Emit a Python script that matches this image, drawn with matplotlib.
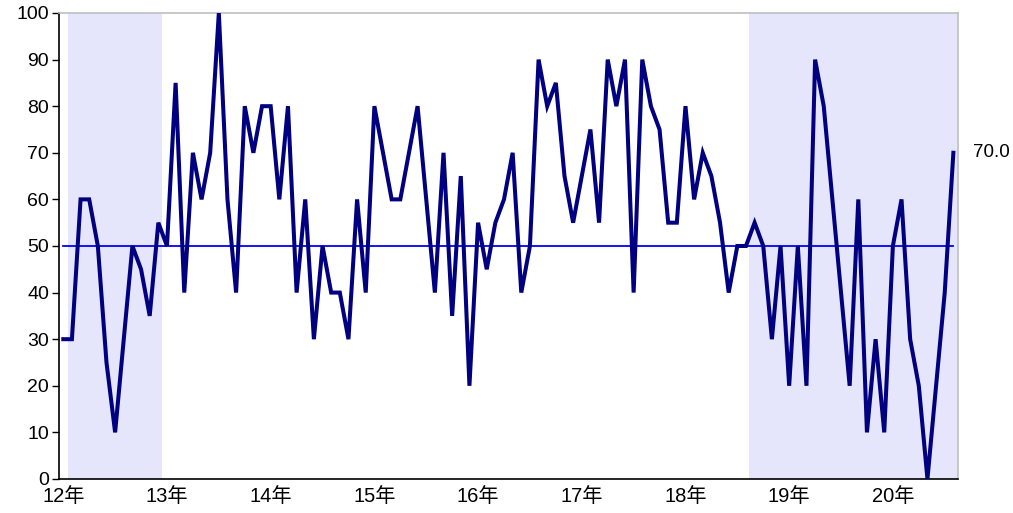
import numpy as np
import matplotlib
matplotlib.use('Agg')
import matplotlib.pyplot as plt

plt.rcParams['font.family'] = ['Liberation Sans', 'Noto Sans CJK JP', 'DejaVu Sans']

# 月次データ (2012年1月 - 2020年8月)
values = [
    30, 30, 60, 60, 50, 25, 10, 30, 50, 45, 35, 55,   # 12年
    50, 85, 40, 70, 60, 70, 100, 60, 40, 80, 70, 80,  # 13年
    80, 60, 80, 40, 60, 30, 50, 40, 40, 30, 60, 40,   # 14年
    80, 70, 60, 60, 70, 80, 60, 40, 70, 35, 65, 20,   # 15年
    55, 45, 55, 60, 70, 40, 50, 90, 80, 85, 65, 55,   # 16年
    65, 75, 55, 90, 80, 90, 40, 90, 80, 75, 55, 55,   # 17年
    80, 60, 70, 65, 55, 40, 50, 50, 55, 50, 30, 50,   # 18年
    20, 50, 20, 90, 80, 60, 40, 20, 60, 10, 30, 10,   # 19年
    50, 60, 30, 20, 0, 20, 40, 70,                    # 20年
]
year_labels = ['12年', '13年', '14年', '15年', '16年', '17年', '18年', '19年', '20年']
base_line = 50
# 網掛け期間 (月インデックス)
shade_start = [0.55, 79.4]
shade_end = [11.4, 103.5]

x = np.arange(len(values))

fig = plt.figure(figsize=(10.13, 5.13), dpi=100)
ax = fig.add_axes([0.0582, 0.0663, 0.8872, 0.9084])

for s, e in zip(shade_start, shade_end):
    ax.axvspan(s, e, facecolor='#e5e5fc', edgecolor='none', zorder=0)

ax.plot([x[0], x[-1]], [base_line, base_line], color='#0000ff', lw=1.3, zorder=2)
ax.plot(x, values, color='#000080', lw=2.9, solid_joinstyle='miter', zorder=3)

ax.set_xlim(-0.5, 103.5)
ax.set_ylim(0, 100)
ax.set_yticks(np.arange(0, 101, 10))
ax.set_xticks(x[::12])
ax.set_xticklabels(year_labels)

ax.tick_params(axis='y', direction='out', length=5, width=1, labelsize=14, pad=2)
ax.tick_params(axis='x', length=0, labelsize=14.5, pad=6)

for side in ['left', 'bottom']:
    ax.spines[side].set_color('black')
    ax.spines[side].set_linewidth(1.2)
for side in ['top', 'right']:
    ax.spines[side].set_color('#c0c0c0')
    ax.spines[side].set_linewidth(1.2)

ax.annotate(f'{values[-1]:.1f}', xy=(1.0, values[-1] / 100), xycoords='axes fraction',
            xytext=(11, 0), textcoords='offset points', va='center', ha='left',
            fontsize=13.5, annotation_clip=False)

fig.savefig('out.png', dpi=100)
